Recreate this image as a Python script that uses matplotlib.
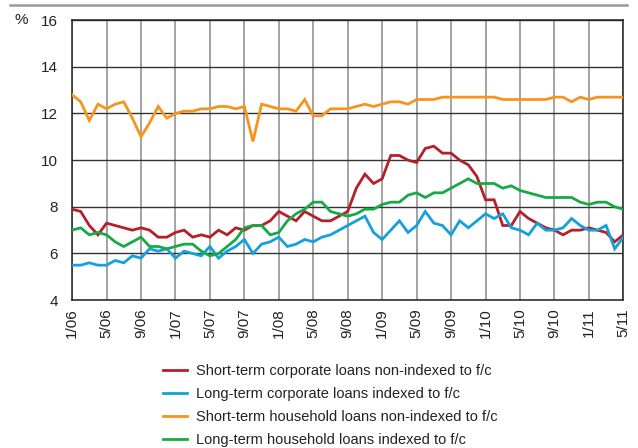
import matplotlib

matplotlib.use("Agg")
import matplotlib.pyplot as plt  # noqa: E402
from matplotlib.lines import Line2D  # noqa: E402

plt.rcParams["font.family"] = ["Liberation Sans", "DejaVu Sans"]

# monthly, 1/06 .. 5/11
months = [f"{m}/{y:02d}" for y in range(6, 12) for m in range(1, 13)][:65]

st_corp = [7.9, 7.8, 7.2, 6.8, 7.3, 7.2, 7.1, 7.0, 7.1, 7.0, 6.7, 6.7, 6.9, 7.0, 6.7, 6.8,
           6.7, 7.0, 6.8, 7.1, 7.0, 7.2, 7.2, 7.4, 7.8, 7.6, 7.4, 7.8, 7.6, 7.4, 7.4, 7.6,
           7.8, 8.8, 9.4, 9.0, 9.2, 10.2, 10.2, 10.0, 9.9, 10.5, 10.6, 10.3, 10.3, 10.0, 9.8, 9.3,
           8.3, 8.3, 7.2, 7.2, 7.8, 7.5, 7.3, 7.1, 7.0, 6.8, 7.0, 7.0, 7.1, 7.0, 6.9, 6.5, 6.8]
lt_corp = [5.5, 5.5, 5.6, 5.5, 5.5, 5.7, 5.6, 5.9, 5.8, 6.2, 6.1, 6.2, 5.8, 6.1, 6.0, 5.9,
           6.3, 5.8, 6.1, 6.3, 6.6, 6.0, 6.4, 6.5, 6.7, 6.3, 6.4, 6.6, 6.5, 6.7, 6.8, 7.0,
           7.2, 7.4, 7.6, 6.9, 6.6, 7.0, 7.4, 6.9, 7.2, 7.8, 7.3, 7.2, 6.8, 7.4, 7.1, 7.4,
           7.7, 7.5, 7.7, 7.1, 7.0, 6.8, 7.3, 7.0, 7.0, 7.1, 7.5, 7.2, 7.0, 7.0, 7.2, 6.2, 6.7]
st_house = [12.8, 12.5, 11.7, 12.4, 12.2, 12.4, 12.5, 11.8, 11.0, 11.6, 12.3, 11.8, 12.0, 12.1, 12.1, 12.2,
            12.2, 12.3, 12.3, 12.2, 12.3, 10.8, 12.4, 12.3, 12.2, 12.2, 12.1, 12.6, 11.9, 11.9, 12.2, 12.2,
            12.2, 12.3, 12.4, 12.3, 12.4, 12.5, 12.5, 12.4, 12.6, 12.6, 12.6, 12.7, 12.7, 12.7, 12.7, 12.7,
            12.7, 12.7, 12.6, 12.6, 12.6, 12.6, 12.6, 12.6, 12.7, 12.7, 12.5, 12.7, 12.6, 12.7, 12.7, 12.7, 12.7]
lt_house = [7.0, 7.1, 6.8, 6.9, 6.8, 6.5, 6.3, 6.5, 6.7, 6.3, 6.3, 6.2, 6.3, 6.4, 6.4, 6.1,
            5.9, 6.0, 6.3, 6.6, 7.1, 7.2, 7.2, 6.8, 6.9, 7.4, 7.7, 7.9, 8.2, 8.2, 7.8, 7.7,
            7.6, 7.7, 7.9, 7.9, 8.1, 8.2, 8.2, 8.5, 8.6, 8.4, 8.6, 8.6, 8.8, 9.0, 9.2, 9.0,
            9.0, 9.0, 8.8, 8.9, 8.7, 8.6, 8.5, 8.4, 8.4, 8.4, 8.4, 8.2, 8.1, 8.2, 8.2, 8.0, 7.9]

series = [
    (st_corp, "#B41F2A", "Short-term corporate loans non-indexed to f/c"),
    (lt_corp, "#14A0DC", "Long-term corporate loans indexed to f/c"),
    (st_house, "#F7941E", "Short-term household loans non-indexed to f/c"),
    (lt_house, "#17A948", "Long-term household loans indexed to f/c"),
]

fig = plt.figure(figsize=(6.38, 4.48), dpi=100)
ax = fig.add_axes([0.113, 0.330, 0.864, 0.625])
x = list(range(len(months)))
for vals, col, lbl in series:
    ax.plot(x, vals, color=col, lw=2.0, solid_joinstyle="miter", zorder=3)

ax.set_xlim(0, len(months) - 1)
ax.set_ylim(4, 16)
ax.set_yticks(range(4, 17, 2))
ax.set_xticks(x[::4])
ax.set_xticklabels(months[::4], rotation=90, fontsize=11, color="#222222")
ax.tick_params(axis="y", labelsize=11, labelcolor="#222222", length=0, pad=10)
ax.tick_params(axis="x", length=0, pad=6)
ax.grid(axis="x", color="#8a8a8a", lw=1.1, zorder=1)
ax.grid(axis="y", color="#333333", lw=1.0, zorder=1)
for s in ax.spines.values():
    s.set_color("#222222")
    s.set_linewidth(1.1)

fig.text(0.022, 0.955, "%", fontsize=11, color="#222222", va="center")
fig.add_artist(Line2D([0.016, 0.982], [0.989, 0.989], color="#999999", lw=1.8))

handles = [Line2D([], [], color=c, lw=2.0) for _, c, _ in series]
fig.legend(handles, [s[2] for s in series], loc="upper left", bbox_to_anchor=(0.247, 0.2),
           frameon=False, fontsize=10.5, handlelength=1.6, handletextpad=0.6,
           labelspacing=0.62, borderaxespad=0, labelcolor="#222222")

fig.savefig("out.png", dpi=100)
